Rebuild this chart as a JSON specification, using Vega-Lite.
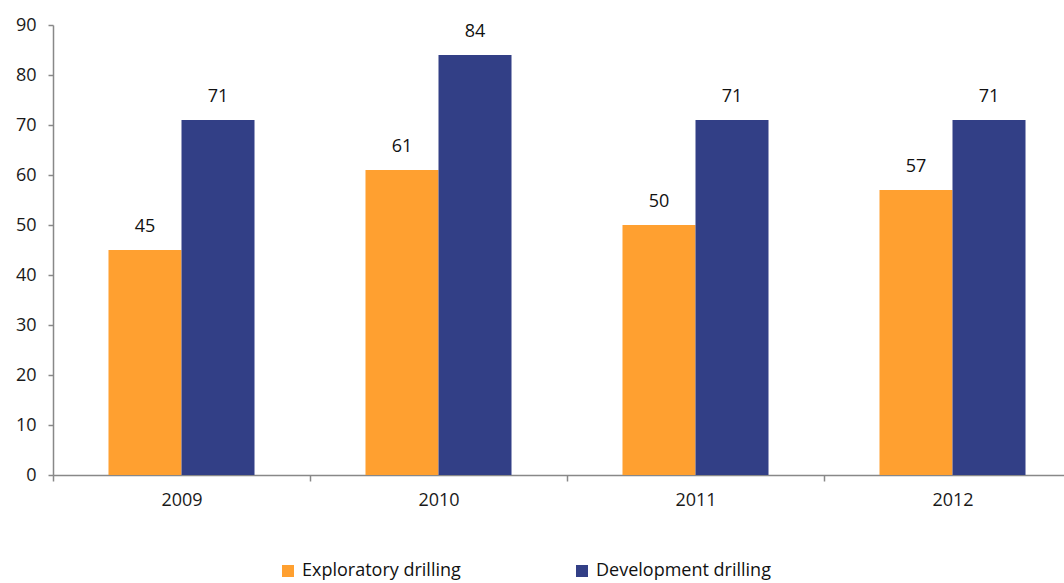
{
  "$schema": "https://vega.github.io/schema/vega-lite/v6.json",
  "width": 1028,
  "height": 450,
  "autosize": {"type": "none"},
  "padding": {"left": 53, "top": 25, "right": 0, "bottom": 108},
  "background": "white",
  "config": {
    "view": {"stroke": null},
    "font": "Open Sans",
    "axis": {"labelFont": "Open Sans", "labelColor": "#1a1a1a", "domainColor": "#888888", "tickColor": "#888888", "grid": false, "title": null}
  },
  "data": {
    "values": [
      {"year": "2009", "type": "Exploratory drilling", "value": 45},
      {"year": "2009", "type": "Development drilling", "value": 71},
      {"year": "2010", "type": "Exploratory drilling", "value": 61},
      {"year": "2010", "type": "Development drilling", "value": 84},
      {"year": "2011", "type": "Exploratory drilling", "value": 50},
      {"year": "2011", "type": "Development drilling", "value": 71},
      {"year": "2012", "type": "Exploratory drilling", "value": 57},
      {"year": "2012", "type": "Development drilling", "value": 71}
    ]
  },
  "encoding": {
    "x": {"field": "year", "type": "nominal", "scale": {"paddingInner": 0, "paddingOuter": 0},
      "axis": {"labelAngle": 0, "tickBand": "extent", "labelFontSize": 18, "tickSize": 6, "labelPadding": 10, "domainWidth": 1.5, "tickWidth": 1.5}},
    "xOffset": {"field": "type", "type": "nominal", "sort": ["Exploratory drilling", "Development drilling"], "scale": {"paddingInner": 0, "paddingOuter": 0.76}},
    "y": {"field": "value", "type": "quantitative", "scale": {"domain": [0, 90]},
      "axis": {"values": [0,10,20,30,40,50,60,70,80,90], "labelFontSize": 18, "tickSize": 5, "labelPadding": 12, "domainWidth": 1.5, "tickWidth": 1.5}}
  },
  "layer": [
    {
      "mark": {"type": "bar"},
      "encoding": {
        "color": {"field": "type", "type": "nominal", "sort": ["Exploratory drilling", "Development drilling"],
          "scale": {"domain": ["Exploratory drilling", "Development drilling"], "range": ["#FFA030", "#323F86"]},
          "legend": {"title": null, "orient": "none", "direction": "horizontal", "legendX": 226, "legendY": 537, "symbolType": "square", "symbolSize": 144, "symbolStrokeWidth": 0, "labelFontSize": 18, "labelColor": "#111111", "labelFont": "Open Sans", "labelLimit": 400, "columnPadding": 112, "labelOffset": 5}}
      }
    },
    {
      "mark": {"type": "text", "baseline": "alphabetic", "dy": -18, "fontSize": 18, "color": "#111111"},
      "encoding": {"text": {"field": "value", "type": "quantitative"}}
    }
  ]
}
